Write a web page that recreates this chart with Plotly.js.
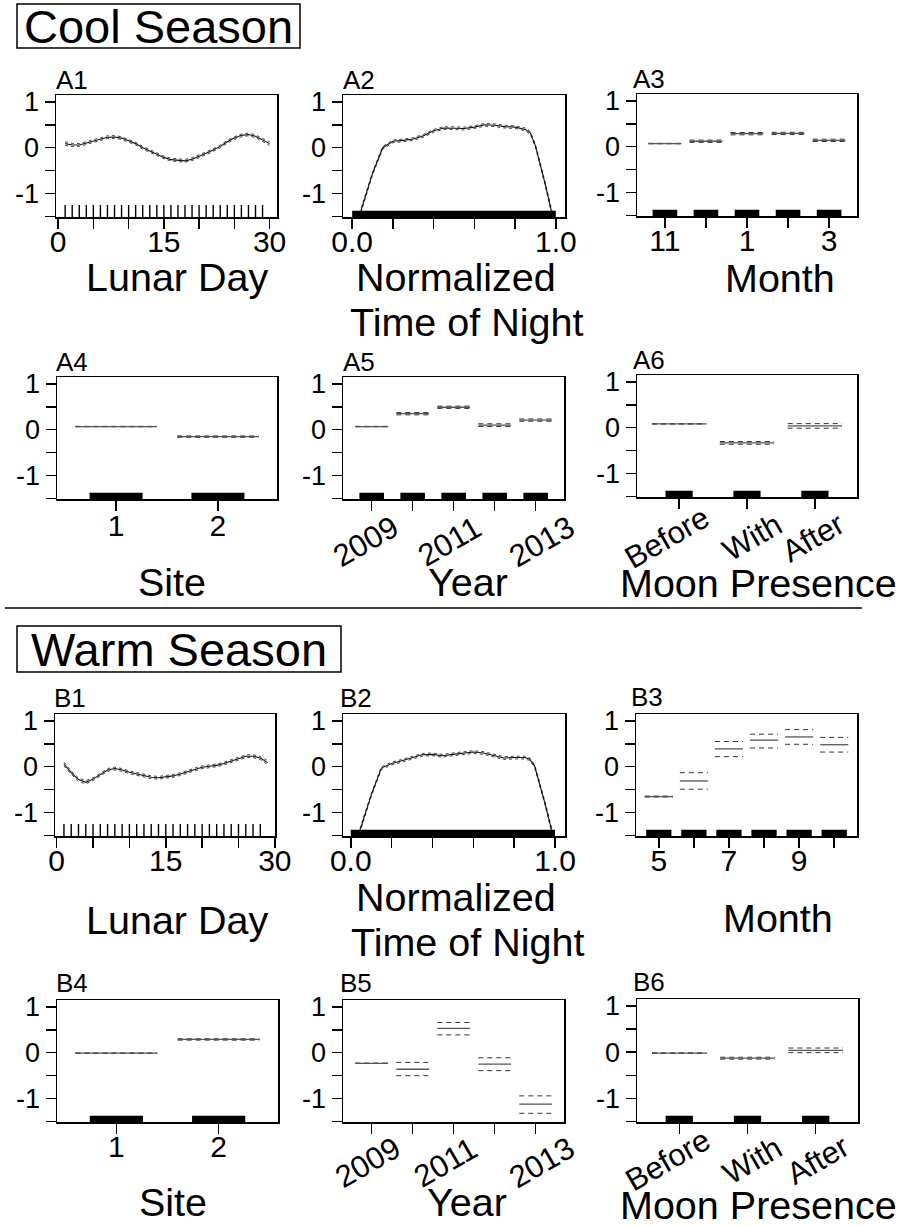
<!DOCTYPE html>
<html><head><meta charset="utf-8">
<script src="https://cdn.plot.ly/plotly-3.0.1.min.js"></script>
<style>html,body{margin:0;padding:0;background:#fff;}</style>
</head><body>
<div id="chart" style="width:903px;height:1226px;"></div>
<script>
// ---------------- DATA ----------------
// A1 Cool season, lunar day
const lunarDayA1 = [1,2,3,4,5,6,7,8,9,10,11,12,13,14,15,16,17,18,19,20,21,22,23,24,25,26,27,28,29,30];
const fitA1 = [0.09,0.06,0.06,0.10,0.15,0.19,0.23,0.235,0.21,0.15,0.09,0.00,-0.07,-0.14,-0.21,-0.26,-0.28,-0.285,-0.25,-0.19,-0.12,-0.05,0.03,0.13,0.21,0.27,0.29,0.25,0.17,0.09];
const ciA1 = [0.04,0.035,0.03,0.03,0.03,0.03,0.03,0.03,0.03,0.03,0.03,0.03,0.03,0.03,0.03,0.03,0.03,0.03,0.03,0.03,0.03,0.03,0.03,0.03,0.03,0.03,0.03,0.03,0.035,0.04];
const rugA1 = [1,2,3,4,5,6,7,8,9,10,11,12,13,14,15,16,17,18,19,20,21,22,23,24,25,26,27,28,29];
// A2 Cool season, normalized time of night
const nightA2 = [0,0.05,0.1,0.15,0.2,0.25,0.3,0.35,0.4,0.45,0.5,0.55,0.6,0.65,0.7,0.75,0.8,0.85,0.875,0.9,0.95,1.0];
const fitA2 = [-1.99,-1.27,-0.56,0.00,0.14,0.16,0.19,0.26,0.37,0.43,0.43,0.42,0.45,0.50,0.49,0.46,0.45,0.40,0.32,0.04,-0.83,-1.8];
const ciA2 = [0.05,0.04,0.03,0.03,0.03,0.03,0.03,0.03,0.03,0.03,0.03,0.03,0.03,0.03,0.03,0.03,0.03,0.03,0.03,0.03,0.04,0.05];
const rugA2 = [0.0, 1.0];
// A3 Cool season, month
const monthA3 = ['11','12','1','2','3'];
const fitA3 = [0.07,0.12,0.285,0.29,0.14];
const loA3 = [0.065,0.095,0.26,0.265,0.115];
const hiA3 = [0.075,0.145,0.31,0.315,0.165];
// A4 Cool season, site
const siteA4 = ['1','2'];
const fitA4 = [0.07,-0.15];
const loA4 = [0.065,-0.165];
const hiA4 = [0.075,-0.135];
// A5 Cool season, year
const yearA5 = ['2009','2010','2011','2012','2013'];
const fitA5 = [0.07,0.35,0.49,0.10,0.21];
const loA5 = [0.065,0.325,0.465,0.07,0.185];
const hiA5 = [0.075,0.375,0.515,0.13,0.235];
// A6 Cool season, moon presence
const moonA6 = ['Before','With','After'];
const fitA6 = [0.086,-0.33,0.04];
const loA6 = [0.08,-0.36,-0.01];
const hiA6 = [0.092,-0.30,0.09];
// B1 Warm season, lunar day
const lunarDayB1 = [1,2,3,4,5,6,7,8,9,10,11,12,13,14,15,16,17,18,19,20,21,22,23,24,25,26,27,28,29];
const fitB1 = [0.06,-0.13,-0.28,-0.34,-0.27,-0.17,-0.07,-0.04,-0.07,-0.12,-0.16,-0.20,-0.23,-0.24,-0.22,-0.20,-0.16,-0.11,-0.06,-0.01,0.01,0.03,0.07,0.12,0.18,0.23,0.23,0.19,0.09];
const ciB1 = [0.04,0.035,0.035,0.035,0.03,0.03,0.03,0.03,0.03,0.03,0.03,0.03,0.03,0.03,0.03,0.03,0.03,0.03,0.03,0.03,0.03,0.03,0.03,0.03,0.03,0.03,0.03,0.035,0.04];
const rugB1 = [1,2,3,4,5,6,7,8,9,10,11,12,13,14,15,16,17,18,19,20,21,22,23,24,25,26,27,28];
// B2 Warm season, normalized time of night
const nightB2 = [0,0.05,0.1,0.15,0.2,0.25,0.3,0.35,0.4,0.45,0.5,0.55,0.6,0.65,0.7,0.75,0.8,0.85,0.875,0.9,0.95,1.0];
const fitB2 = [-2.02,-1.32,-0.62,-0.03,0.07,0.13,0.20,0.26,0.27,0.24,0.27,0.30,0.32,0.30,0.24,0.19,0.20,0.20,0.17,0.02,-0.78,-1.68];
const ciB2 = [0.05,0.04,0.03,0.03,0.03,0.03,0.03,0.03,0.03,0.03,0.03,0.03,0.03,0.03,0.03,0.03,0.03,0.03,0.03,0.03,0.04,0.05];
const rugB2 = [0.0, 1.0];
// B3 Warm season, month
const monthB3 = ['5','6','7','8','9','10'];
const fitB3 = [-0.65,-0.31,0.39,0.58,0.65,0.48];
const loB3 = [-0.66,-0.49,0.22,0.41,0.49,0.32];
const hiB3 = [-0.64,-0.13,0.55,0.71,0.81,0.64];
// B4 Warm season, site
const siteB4 = ['1','2'];
const fitB4 = [-0.01,0.29];
const loB4 = [-0.015,0.275];
const hiB4 = [-0.005,0.305];
// B5 Warm season, year
const yearB5 = ['2009','2010','2011','2012','2013'];
const fitB5 = [-0.23,-0.36,0.53,-0.25,-1.12];
const loB5 = [-0.235,-0.50,0.39,-0.39,-1.32];
const hiB5 = [-0.225,-0.21,0.66,-0.11,-0.94];
// B6 Warm season, moon presence
const moonB6 = ['Before','With','After'];
const fitB6 = [-0.02,-0.13,0.04];
const loB6 = [-0.025,-0.15,-0.01];
const hiB6 = [-0.015,-0.11,0.09];

// ---------------- LAYOUT HELPERS ----------------
const W = 903, H = 1226;
const px = v => v / W;
const py = v => 1 - v / H;
const FONT = 'Liberation Sans, Arial, sans-serif';
const YR = [-1.51, 1.15];
const RUGY = -1.40, BARY = -1.45;

const traces = [];
const annotations = [];
const layout = {
  width: W, height: H, margin: {l:0, r:0, t:0, b:0},
  paper_bgcolor: '#fff', plot_bgcolor: '#fff', showlegend: false,
  font: {family: FONT, color: '#000'},
  shapes: [], annotations: annotations
};

function axNames(k){ const s = k === 1 ? '' : String(k); return {x:'x'+s, y:'y'+s, xa:'xaxis'+s, ya:'yaxis'+s}; }

function setupAxes(k, box, xopts){
  const n = axNames(k);
  layout[n.ya] = {
    domain:[py(box[3]), py(box[2])], range: YR, anchor: n.x,
    tickvals:[-1.5,-1,-0.5,0,0.5,1], ticktext:['','-1','','0','','1'],
    ticks:'outside', ticklen:10, tickwidth:1.5, tickcolor:'#000',
    showline:true, mirror:true, linewidth:1.5, linecolor:'#000',
    showgrid:false, zeroline:false, fixedrange:true,
    tickfont:{family:FONT, size:27, color:'#000'}
  };
  layout[n.xa] = Object.assign({
    domain:[px(box[0]), px(box[1])], anchor: n.y,
    ticks:'outside', ticklen:10, tickwidth:1.5, tickcolor:'#000',
    showline:true, mirror:true, linewidth:1.5, linecolor:'#000',
    showgrid:false, zeroline:false, fixedrange:true, ticklabelstandoff:-13,
    tickfont:{family:FONT, size:30, color:'#000'}
  }, xopts);
}

function ciLine(n, x, y){
  return {type:'scatter', mode:'lines', x:x, y:y, xaxis:n.x, yaxis:n.y,
    line:{color:'#444', width:1, dash:'3px,3px'}, hoverinfo:'skip'};
}

function continuousPanel(k, box, x, fit, ci, xopts){
  setupAxes(k, box, xopts);
  const n = axNames(k);
  traces.push(ciLine(n, x, fit.map((v,i)=>v+ci[i])));
  traces.push(ciLine(n, x, fit.map((v,i)=>v-ci[i])));
  traces.push({type:'scatter', mode:'lines', x:x, y:fit, xaxis:n.x, yaxis:n.y,
    line:{color:'#111', width:1.1}, hoverinfo:'skip'});
}

function rugTicks(k, rug){
  const n = axNames(k);
  traces.push({type:'scatter', mode:'markers', x:rug, y:rug.map(()=>RUGY), xaxis:n.x, yaxis:n.y,
    marker:{symbol:'line-ns-open', size:10, color:'#000', line:{color:'#000', width:1.4}},
    cliponaxis:false, hoverinfo:'skip'});
}
function rugBar(k, rug){
  const n = axNames(k);
  traces.push({type:'scatter', mode:'lines', x:rug, y:rug.map(()=>BARY), xaxis:n.x, yaxis:n.y,
    line:{color:'#000', width:7}, hoverinfo:'skip'});
}

function segs(cats, vals, half){
  const xs = [], ys = [];
  cats.forEach((c,i)=>{ const p = i+1; xs.push(p-half, p+half, null); ys.push(vals[i], vals[i], null); });
  return {xs, ys};
}

function categoricalPanel(k, box, cats, fit, lo, hi, range, tickShow, barHalf, rotated, labelCfg){
  const opts = {range: range, tickvals: cats.map((c,i)=>i+1),
    ticktext: cats.map((c,i)=> tickShow(i) ? c : '')};
  if (rotated) opts.showticklabels = false;
  if (labelCfg && labelCfg.standoff !== undefined) opts.ticklabelstandoff = labelCfg.standoff;
  setupAxes(k, box, opts);
  const n = axNames(k);
  const f = segs(cats, fit, 0.4), l = segs(cats, lo, 0.4), h = segs(cats, hi, 0.4);
  traces.push({type:'scatter', mode:'lines', x:h.xs, y:h.ys, xaxis:n.x, yaxis:n.y,
    line:{color:'#333', width:1, dash:'5px,4px'}, hoverinfo:'skip', connectgaps:false});
  traces.push({type:'scatter', mode:'lines', x:l.xs, y:l.ys, xaxis:n.x, yaxis:n.y,
    line:{color:'#333', width:1, dash:'5px,4px'}, hoverinfo:'skip', connectgaps:false});
  traces.push({type:'scatter', mode:'lines', x:f.xs, y:f.ys, xaxis:n.x, yaxis:n.y,
    line:{color:'#555', width:1.3}, hoverinfo:'skip', connectgaps:false});
  if (barHalf) {
    const b = segs(cats, cats.map(()=>BARY), barHalf);
    traces.push({type:'scatter', mode:'lines', x:b.xs, y:b.ys, xaxis:n.x, yaxis:n.y,
      line:{color:'#000', width:7}, hoverinfo:'skip', connectgaps:false});
  }
  if (rotated) {
    cats.forEach((c,i)=>{
      if (!tickShow(i)) return;
      annotations.push({xref:n.x, yref:'paper', x:i+1+rotated.dx[i], y:py(box[3]+rotated.dy),
        text:c, showarrow:false, textangle:-30, xanchor:'center', yanchor:'middle',
        font:{family:FONT, size:31, color:'#000'}});
    });
  }
}

// ---------------- PANELS ----------------
const every = () => true, odd = i => i % 2 === 0;
continuousPanel(1, [56,277,95,217], lunarDayA1, fitA1, ciA1,
  {range:[-0.3,31.05], tickvals:[0,5,10,15,20,25,30], ticktext:['0','','','15','','','30']});
rugTicks(1, rugA1);
continuousPanel(2, [343,565,95,217], nightA2, fitA2, ciA2,
  {range:[-0.045,1.045], tickvals:[0,0.2,0.4,0.6,0.8,1], ticktext:['0.0','','','','','1.0']});
rugBar(2, rugA2);
categoricalPanel(3, [637,857,94,216], monthA3, fitA3, loA3, hiA3, [0.32,5.68], odd, 0.3);
categoricalPanel(4, [57,277,377,499], siteA4, fitA4, loA4, hiA4, [0.42,2.58], every, 0.26, null, {standoff:-11});
categoricalPanel(5, [343,564,377,499], yearA5, fitA5, loA5, hiA5, [0.3,5.69], odd, 0.3, {dx:[-0.15,0,-0.1,0,0.15], dy:42});
categoricalPanel(6, [637,857,375,497], moonA6, fitA6, loA6, hiA6, [0.38,3.62], every, 0.2, {dx:[-0.18,0.07,-0.03], dy:40});

continuousPanel(7, [55,275,714,836], lunarDayB1, fitB1, ciB1,
  {range:[-0.23,30.02], tickvals:[0,5,10,15,20,25,30], ticktext:['0','','','15','','','30']});
rugTicks(7, rugB1);
continuousPanel(8, [343,565,714,836], nightB2, fitB2, ciB2,
  {range:[-0.038,1.049], tickvals:[0,0.2,0.4,0.6,0.8,1], ticktext:['0.0','','','','','1.0']});
rugBar(8, rugB2);
categoricalPanel(9, [636,857,714,836], monthB3, fitB3, loB3, hiB3, [0.35,6.65], odd, 0.36);
categoricalPanel(10, [57,278,1000,1122], siteB4, fitB4, loB4, hiB4, [0.42,2.58], every, 0.26, null, {standoff:-13});
categoricalPanel(11, [343,564,1000,1122], yearB5, fitB5, loB5, hiB5, [0.3,5.69], odd, 0, {dx:[-0.1,0,-0.2,0,0.15], dy:40});
categoricalPanel(12, [637,858,999,1122], moonB6, fitB6, loB6, hiB6, [0.38,3.62], every, 0.2, {dx:[-0.18,0.07,0.02], dy:38});

// ---------------- TEXT ----------------
const panelLabels = [['A1',54,80],['A2',341,80],['A3',631,79],['A4',54,362],['A5',341,362],['A6',631,360],
  ['B1',52,698],['B2',338,698],['B3',629,697],['B4',54,983],['B5',338,983],['B6',631,982]];
panelLabels.forEach(p => annotations.push({xref:'paper', yref:'paper', x:px(p[1]), y:py(p[2]), text:p[0],
  showarrow:false, xanchor:'left', yanchor:'middle', font:{family:FONT, size:26, color:'#000'}}));

const axisTitles = [['Lunar Day',177,277],['Normalized',456,277],['Time of Night',466,322],['Month',780,278],
  ['Site',172,582],['Year',468,582],['Moon Presence',758,583],
  ['Lunar Day',177,920],['Normalized',456,897],['Time of Night',468,942],['Month',778,918],
  ['Site',173,1202],['Year',467,1202],['Moon Presence',758,1205]];
axisTitles.forEach(t => annotations.push({xref:'paper', yref:'paper', x:px(t[1]), y:py(t[2]), text:t[0],
  showarrow:false, xanchor:'center', yanchor:'middle', font:{family:FONT, size:39.5, color:'#000'}}));

annotations.push({xref:'paper', yref:'paper', x:px(158), y:py(27), text:'Cool Season', showarrow:false,
  xanchor:'center', yanchor:'middle', font:{family:FONT, size:47, color:'#000'}});
annotations.push({xref:'paper', yref:'paper', x:px(179), y:py(649), text:'Warm Season', showarrow:false,
  xanchor:'center', yanchor:'middle', font:{family:FONT, size:47, color:'#000'}});

layout.shapes.push({type:'rect', xref:'paper', yref:'paper', x0:px(17), x1:px(300), y0:py(48), y1:py(4), line:{color:'#000', width:1.5}});
layout.shapes.push({type:'rect', xref:'paper', yref:'paper', x0:px(17), x1:px(341), y0:py(672), y1:py(626), line:{color:'#000', width:1.5}});
layout.shapes.push({type:'line', xref:'paper', yref:'paper', x0:px(5), x1:px(862), y0:py(608), y1:py(608), line:{color:'#000', width:1.5}});

Plotly.newPlot('chart', traces, layout, {displayModeBar:false, staticPlot:true});
</script>
</body></html>
